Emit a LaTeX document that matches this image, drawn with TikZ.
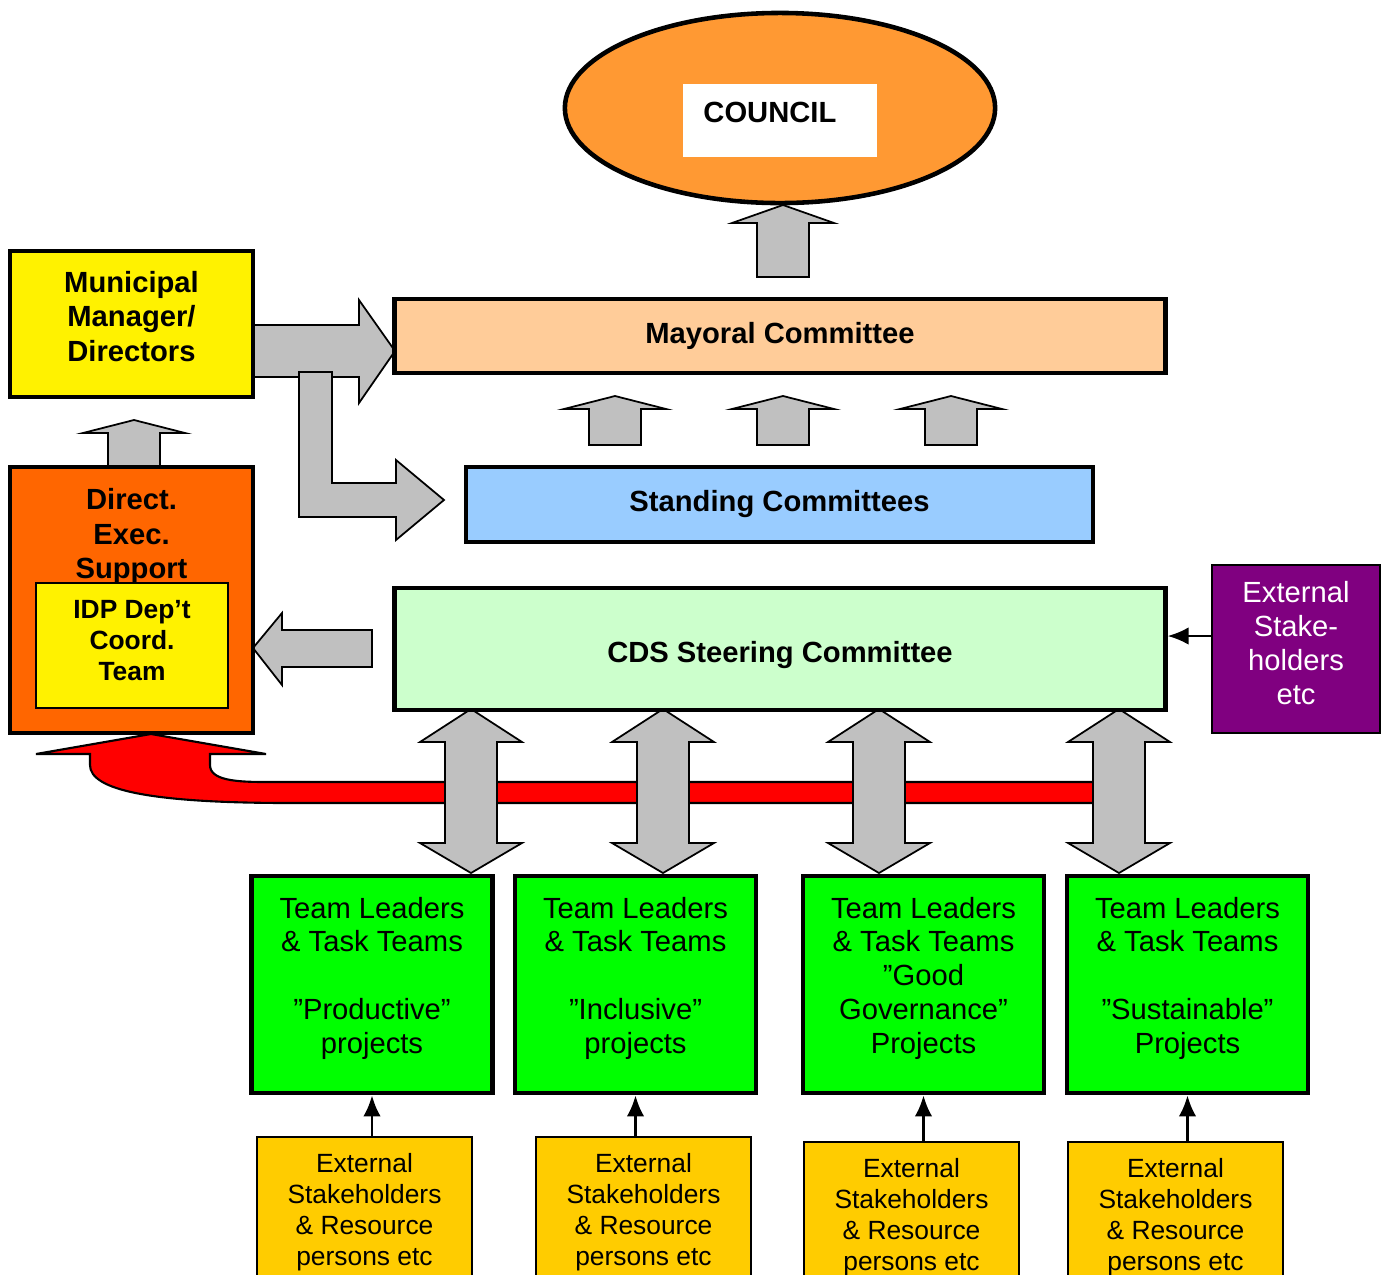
\documentclass[tikz,border=0pt]{standalone}
\usepackage{fontspec}
\setmainfont{Liberation Sans}
\usetikzlibrary{arrows.meta,positioning,shapes}

\definecolor{councilorange}{HTML}{FF9933}
\definecolor{mayorpeach}{HTML}{FFCC99}
\definecolor{standblue}{HTML}{99CCFF}
\definecolor{cdsgreen}{HTML}{CCFFCC}
\definecolor{extpurple}{HTML}{800080}
\definecolor{desorange}{HTML}{FF6600}
\definecolor{teamgreen}{HTML}{00FF00}
\definecolor{extyellow}{HTML}{FFCC00}
\definecolor{arrowgray}{HTML}{C0C0C0}

\begin{document}
\begin{tikzpicture}[x=0.01cm,y=-0.01cm,
  box/.style={draw,line width=1.3pt,font=\fontsize{8.3}{9.7}\selectfont\bfseries,align=center,inner sep=0pt},
  thinbox/.style={draw,line width=0.6pt,align=center,inner sep=0pt},
  teambox/.style={draw,line width=1.3pt,fill=teamgreen,minimum width=2.41cm,minimum height=2.17cm,inner sep=0pt},
  teamtext/.style={font=\fontsize{8.3}{9.6}\selectfont,align=center,yshift=1.8pt},
  extbox/.style={thinbox,fill=extyellow,font=\fontsize{7.5}{8.8}\selectfont,minimum width=2.15cm,minimum height=1.5cm,anchor=north},
  grayarrow/.style={draw,line width=0.5pt,fill=arrowgray},
  thinarrow/.style={-{Latex[length=6pt,width=5pt]},line width=0.8pt},
  pics/uparrow/.style 2 args={code={
    \filldraw[grayarrow] (0,0) -- (51,#1) -- (26,#1) -- (26,#2) -- (-26,#2) -- (-26,#1) -- (-51,#1) -- cycle;}},
  pics/dblarrow/.style={code={
    \filldraw[grayarrow] (0,0) -- (51,33) -- (26,33) -- (26,134) -- (51,134) -- (0,164)
      -- (-51,134) -- (-26,134) -- (-26,33) -- (-51,33) -- cycle;}}]
\useasboundingbox (0,0) rectangle (1387,1275);

% red feedback arrow, behind the double arrows
\filldraw[draw=black,line width=0.6pt,fill=red] (151,734) -- (266,754) -- (210,754) -- (210,765)
  .. controls (210,780) and (235,782) .. (265,782) -- (1110,782) -- (1110,803) -- (290,803)
  .. controls (150,803) and (90,790) .. (90,765) -- (90,754) -- (36,754) -- cycle;
\foreach \x in {471,663,879,1119}
  \pic at (\x,709) {dblarrow};

% gray block arrows
\filldraw[grayarrow] (250,325) -- (359,325) -- (359,300) -- (395,351) -- (359,403) -- (359,377) -- (250,377) -- cycle;
\filldraw[grayarrow] (299,372) -- (332,372) -- (332,483) -- (396,483) -- (396,460) -- (444,500)
  -- (396,540) -- (396,517) -- (299,517) -- cycle;
\filldraw[grayarrow] (372,630) -- (282,630) -- (282,613) -- (253,648) -- (282,685) -- (282,667) -- (372,667) -- cycle;
\pic at (783,205) {uparrow={18}{72}};
\pic at (134,420) {uparrow={13}{47}};
\foreach \x in {615,783,951}
  \pic at (\x,396) {uparrow={13}{49}};

% council
\node[draw,ellipse,line width=1.3pt,fill=councilorange,minimum width=4.3cm,minimum height=1.9cm] (council) at (780,108) {};
\node[fill=white,font=\fontsize{8.3}{9.7}\selectfont\bfseries,inner ysep=0pt,inner xsep=0.2cm,
  text width=1.53cm,align=left,text height=0.385cm,text depth=0.345cm] (councilname) at (780,120.5) {COUNCIL};

% committees
\node[box,fill=mayorpeach,minimum width=7.7cm,minimum height=0.74cm] (mayor) at (780,336) {Mayoral Committee};
\node[box,fill=standblue,minimum width=6.27cm,minimum height=0.75cm] (standing) at (779.5,504.5) {Standing Committees};
\node[box,fill=cdsgreen,minimum width=7.7cm,minimum height=1.22cm,
  label={[font=\fontsize{8.3}{9.7}\selectfont\bfseries,yshift=-1.6pt]center:CDS Steering Committee}] (cds) at (780,649) {};

% management side
\node[box,fill=yellow,minimum width=2.43cm,minimum height=1.46cm,
  label={[font=\fontsize{8.3}{9.8}\selectfont\bfseries,align=center,yshift=2.2pt]center:Municipal\\Manager/\\Directors}] (manager) at (131.5,324) {};
\node[box,fill=desorange,minimum width=2.43cm,minimum height=2.66cm] (des) at (131.5,600) {};
\node[font=\fontsize{8.3}{9.8}\selectfont\bfseries,align=center,anchor=north] (desname) at (131.5,476) {Direct.\\Exec.\\Support};
\node[thinbox,fill=yellow,minimum width=1.92cm,minimum height=1.25cm,
  label={[font=\fontsize{7.5}{8.8}\selectfont\bfseries,align=center,yshift=1.4pt]center:IDP Dep’t\\Coord.\\Team}] (idp) at (132,645.5) {};

% external stakeholders of the steering committee
\node[thinbox,fill=extpurple,minimum width=1.68cm,minimum height=1.68cm,
  label={[text=white,font=\fontsize{8.3}{9.6}\selectfont,align=center,yshift=1.7pt]center:External\\Stake-\\holders\\etc}] (extsh) at (1296,649) {};
\draw[thinarrow] (extsh.west |- 0,636) -- (cds.east |- 0,636);

% team boxes
\node[teambox,label={[teamtext]center:Team Leaders\\\& Task Teams\\[9.6pt]”Productive”\\projects}] (team1) at (372,984.5) {};
\node[teambox,label={[teamtext]center:Team Leaders\\\& Task Teams\\[9.6pt]”Inclusive”\\projects}] (team2) at (635.5,984.5) {};
\node[teambox,label={[teamtext]center:Team Leaders\\\& Task Teams\\”Good\\Governance”\\Projects}] (team3) at (923.5,984.5) {};
\node[teambox,label={[teamtext]center:Team Leaders\\\& Task Teams\\[9.6pt]”Sustainable”\\Projects}] (team4) at (1187.5,984.5) {};

% resource persons
\node[extbox] (ext1) at (364.5,1136) {External\\Stakeholders\\\& Resource\\persons etc};
\node[extbox] (ext2) at (643.5,1136) {External\\Stakeholders\\\& Resource\\persons etc};
\node[extbox] (ext3) at (911.5,1141) {External\\Stakeholders\\\& Resource\\persons etc};
\node[extbox] (ext4) at (1175.5,1141) {External\\Stakeholders\\\& Resource\\persons etc};
\draw[thinarrow] (team1.south |- ext1.north) -- (team1.south);
\draw[thinarrow] (team2.south |- ext2.north) -- (team2.south);
\draw[thinarrow] (team3.south |- ext3.north) -- (team3.south);
\draw[thinarrow] (team4.south |- ext4.north) -- (team4.south);
\end{tikzpicture}
\end{document}
